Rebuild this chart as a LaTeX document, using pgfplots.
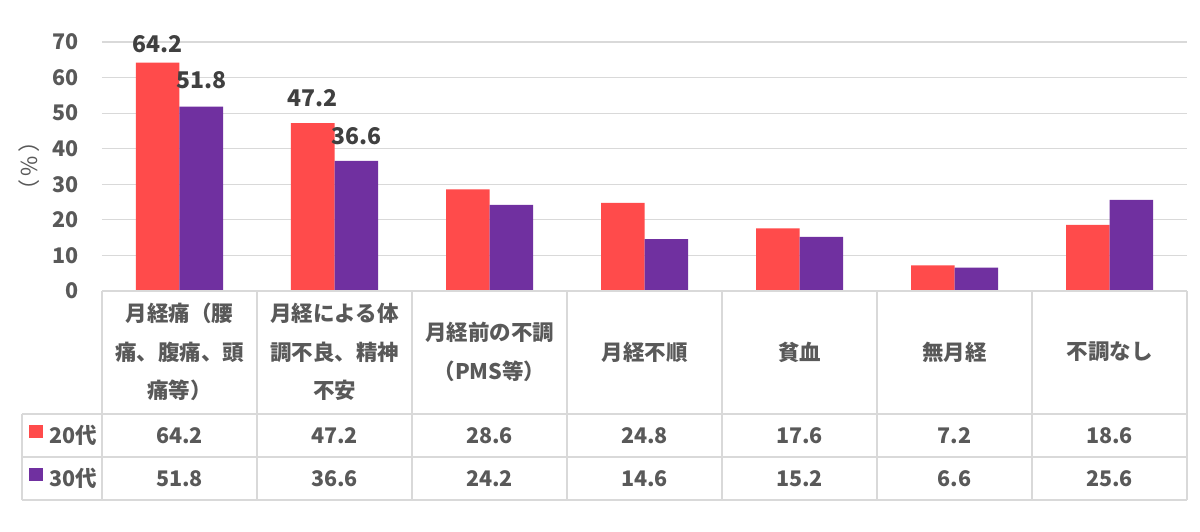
\documentclass[border=0pt]{standalone}
\usepackage{fontspec}
\setmainfont{Noto Sans CJK JP}
\usepackage{pgfplots}
\pgfplotsset{compat=1.18}
\definecolor{redbar}{HTML}{FF4B4B}
\definecolor{purplebar}{HTML}{7030A0}
\definecolor{txt}{HTML}{595959}
\definecolor{lbl}{HTML}{404040}
\definecolor{gridc}{HTML}{D9D9D9}
\begin{document}
\begin{tikzpicture}[x=1pt,y=1pt]
\fill[white] (0,0) rectangle (1200,531);
\begin{axis}[at={(102pt,240pt)}, anchor=south west, scale only axis,
  width=1085pt, height=249pt,
  xmin=-0.5, xmax=6.5, ymin=0, ymax=70, ytick={0,10,...,70}, xtick=\empty,
  ymajorgrids, grid style={gridc, line width=1.2pt},
  axis line style={draw=none}, major tick length=0pt,
  yticklabel style={font=\fontsize{21.5}{21.5}\selectfont\bfseries, text=txt, anchor=east, inner sep=0pt, xshift=-23pt},
  /pgf/number format/assume math mode=true,
  ybar=0pt, bar width=43.5pt, clip=false]
\addplot[fill=redbar, draw=none] coordinates {(0,64.2)(1,47.2)(2,28.6)(3,24.8)(4,17.6)(5,7.2)(6,18.6)};
\addplot[fill=purplebar, draw=none] coordinates {(0,51.8)(1,36.6)(2,24.2)(3,14.6)(4,15.2)(5,6.6)(6,25.6)};
\begin{scope}[every node/.style={font=\fontsize{23}{23}\selectfont\bfseries, text=lbl, inner sep=0pt}]
\node at ([xshift=-21.75pt,yshift=18pt]axis cs:0,64.2) {64.2};
\node at ([xshift=21.75pt,yshift=27pt]axis cs:0,51.8) {51.8};
\node at ([xshift=-21.75pt,yshift=25pt]axis cs:1,47.2) {47.2};
\node at ([xshift=21.75pt,yshift=25pt]axis cs:1,36.6) {36.6};
\end{scope}
\end{axis}
% y label
\node[rotate=90, text=txt, font=\fontsize{22}{22}\selectfont] at (29,365) {（\,\%\,）};
% table lines
\begin{scope}[draw=gridc, line width=1.2pt]
\draw (102,240) -- (1187,240);
\foreach \y in {117,74,31} \draw (22,\y) -- (1187,\y);
\draw (22,31) -- (22,117);
\foreach \k in {0,...,7} \draw ({102+155*\k},31) -- ({102+155*\k},240);
\end{scope}
% header labels
\begin{scope}[every node/.style={align=center, text=txt, font=\fontsize{21.5}{38.5}\selectfont\bfseries, inner sep=0pt}]
\node at (179.5,179) {月経痛（腰\\痛、腹痛、頭\\痛等）};
\node at (334.5,179) {月経による体\\調不良、精神\\不安};
\node at (489.5,179) {月経前の不調\\（PMS等）};
\node at (644.5,179) {月経不順};
\node at (799.5,179) {貧血};
\node at (954.5,179) {無月経};
\node at (1109.5,179) {不調なし};
\end{scope}
% legend keys
\fill[redbar] (29,93) rectangle (43,106);
\fill[purplebar] (29,50) rectangle (43,63);
\begin{scope}[every node/.style={text=txt, font=\fontsize{21.5}{21.5}\selectfont\bfseries, inner sep=0pt}]
\node[anchor=west] at (49,95.5) {20代};
\node[anchor=west] at (49,52.5) {30代};
\foreach \v [count=\i from 0] in {64.2,47.2,28.6,24.8,17.6,7.2,18.6}
  \node at ({179.5+155*\i},95.5) {\v};
\foreach \v [count=\i from 0] in {51.8,36.6,24.2,14.6,15.2,6.6,25.6}
  \node at ({179.5+155*\i},52.5) {\v};
\end{scope}
\end{tikzpicture}
\end{document}
